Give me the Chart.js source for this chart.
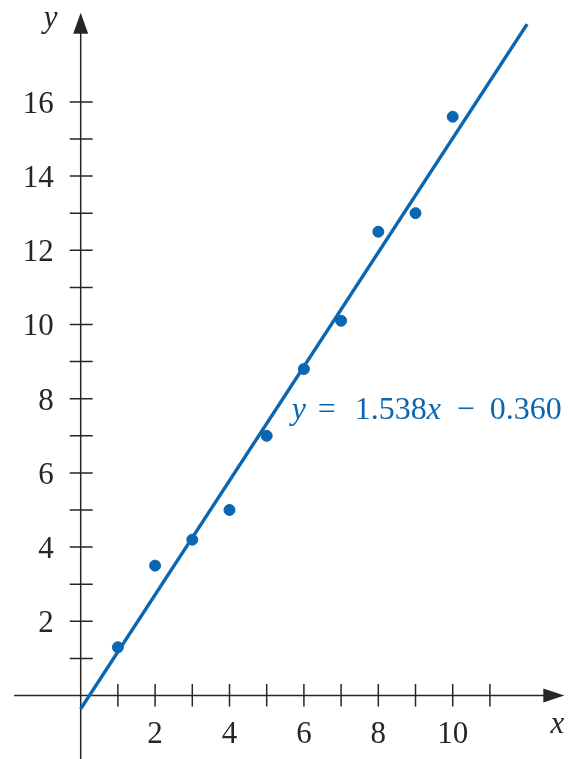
<!DOCTYPE html>
<html>
<head>
<meta charset="utf-8">
<script src="https://cdn.jsdelivr.net/npm/chart.js@4.4.1/dist/chart.umd.min.js"></script>
<style>
  html, body { margin: 0; padding: 0; background: #fff; overflow: hidden; }
  #wrap { width: 568px; height: 759px; position: relative; }
</style>
</head>
<body>
<div id="wrap"><canvas id="chart"></canvas></div>
<script>
// data
const pointX = [1, 2, 3, 4, 5, 6, 7, 8, 9, 10];
const pointY = [1.3, 3.5, 4.2, 5.0, 7.0, 8.8, 10.1, 12.5, 13.0, 15.6];

// fitted line, two end points
const lineX = [0, 12];
const lineY = [-0.36, 18.096];

// axis ticks
const xTicks = [1, 2, 3, 4, 5, 6, 7, 8, 9, 10, 11];
const xTickLabels = ['', '2', '', '4', '', '6', '', '8', '', '10', ''];
const yTicks = [1, 2, 3, 4, 5, 6, 7, 8, 9, 10, 11, 12, 13, 14, 15, 16];
const yTickLabels = ['', '2', '', '4', '', '6', '', '8', '', '10', '', '12', '', '14', '', '16'];

const BLUE = '#0b66b2';
const INK = '#262626';
const SERIF = '"Liberation Serif", "DejaVu Serif", serif';

// draws the arrowed axes through the origin, ticks and texts
const axesPlugin = {
  id: 'axes',
  beforeDatasetsDraw(chart) {
    const ctx = chart.ctx;
    const xs = chart.scales.x, ys = chart.scales.y;
    const ox = xs.getPixelForValue(0), oy = ys.getPixelForValue(0);
    const left = xs.getPixelForValue(-1.79);
    const right = xs.getPixelForValue(13.0);
    const top = ys.getPixelForValue(18.4);
    const bottom = chart.height;

    ctx.save();
    ctx.strokeStyle = INK;
    ctx.fillStyle = INK;
    ctx.lineWidth = 1.5;

    ctx.beginPath();
    ctx.moveTo(left, oy); ctx.lineTo(right - 18, oy);
    ctx.moveTo(ox, bottom); ctx.lineTo(ox, top + 18);
    ctx.stroke();

    // arrow heads
    ctx.beginPath();
    ctx.moveTo(right, oy); ctx.lineTo(right - 21, oy - 7); ctx.lineTo(right - 21, oy + 7);
    ctx.closePath(); ctx.fill();
    ctx.beginPath();
    ctx.moveTo(ox, top); ctx.lineTo(ox - 7.5, top + 21); ctx.lineTo(ox + 7.5, top + 21);
    ctx.closePath(); ctx.fill();

    // tick marks
    ctx.beginPath();
    xTicks.forEach(v => {
      const px = xs.getPixelForValue(v);
      ctx.moveTo(px, oy - 11.5); ctx.lineTo(px, oy + 11);
    });
    yTicks.forEach(v => {
      const py = ys.getPixelForValue(v);
      ctx.moveTo(ox - 11, py); ctx.lineTo(ox + 12, py);
    });
    ctx.stroke();

    // tick labels
    ctx.font = '31px ' + SERIF;
    ctx.textBaseline = 'alphabetic';
    ctx.textAlign = 'center';
    xTicks.forEach((v, i) => {
      if (xTickLabels[i]) ctx.fillText(xTickLabels[i], xs.getPixelForValue(v), oy + 48);
    });
    ctx.textAlign = 'right';
    yTicks.forEach((v, i) => {
      if (yTickLabels[i]) ctx.fillText(yTickLabels[i], ox - 27, ys.getPixelForValue(v) + 11);
    });

    // axis names
    ctx.font = 'italic 31px ' + SERIF;
    ctx.textAlign = 'center';
    ctx.fillText('y', ox - 30, 27);
    ctx.fillText('x', right - 7, oy + 38);

    // equation, math spacing around = and minus
    ctx.fillStyle = BLUE;
    ctx.textAlign = 'left';
    const x0 = xs.getPixelForValue(5.67);
    const ty = ys.getPixelForValue(7.45);
    const parts = [['y', true, 0], ['=', false, 26], ['1.538', false, 63], ['x', true, null], ['\u2212', false, 165], ['0.360', false, 198]];
    let tx = x0;
    parts.forEach(([s, it, off]) => {
      ctx.font = (it ? 'italic ' : '') + '32px ' + SERIF;
      if (off !== null) tx = x0 + off;
      ctx.fillText(s, tx, ty);
      tx += ctx.measureText(s).width;
    });
    ctx.restore();
  }
};

new Chart(document.getElementById('chart'), {
  type: 'scatter',
  data: {
    datasets: [
      {
        type: 'line',
        label: 'fit',
        data: lineX.map((x, i) => ({x: x, y: lineY[i]})),
        borderColor: BLUE,
        borderWidth: 3.5,
        pointRadius: 0,
        fill: false,
        clip: false
      },
      {
        label: 'data',
        data: pointX.map((x, i) => ({x: x, y: pointY[i]})),
        backgroundColor: BLUE,
        borderColor: BLUE,
        pointRadius: 5.5,
        pointHoverRadius: 5.5,
        clip: false
      }
    ]
  },
  options: {
    responsive: true,
    maintainAspectRatio: false,
    animation: false,
    layout: { padding: 0, autoPadding: false },
    plugins: { legend: { display: false }, tooltip: { enabled: false } },
    scales: {
      x: { type: 'linear', display: false, min: -2.169, max: 13.099 },
      y: { type: 'linear', display: false, min: -1.712, max: 18.746 }
    }
  },
  plugins: [axesPlugin]
});
</script>
</body>
</html>
